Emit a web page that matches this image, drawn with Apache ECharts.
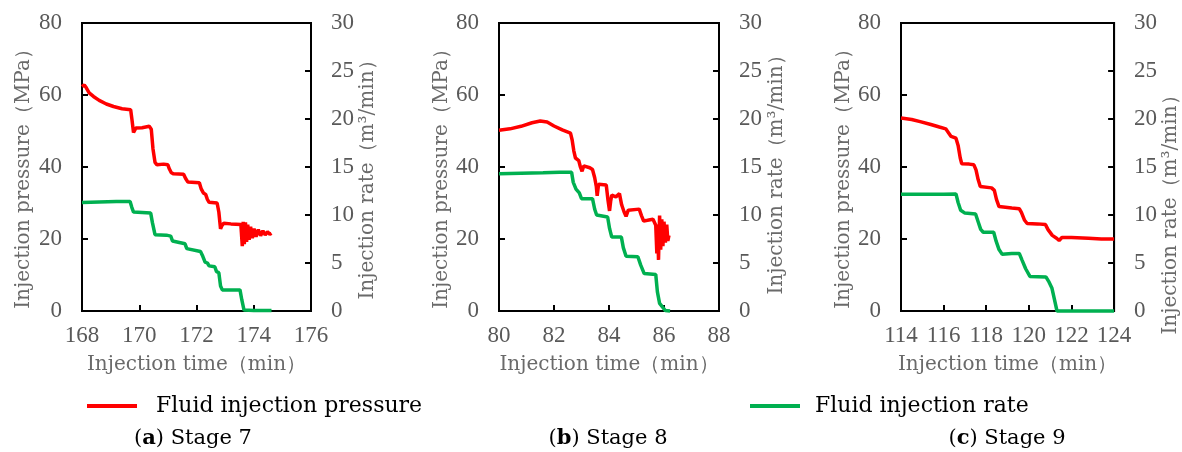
<!DOCTYPE html>
<html>
<head>
<meta charset="utf-8">
<title>Fluid injection pressure and rate, stages 7-9</title>
<script src="https://cdn.jsdelivr.net/npm/echarts@6/dist/echarts.min.js"></script>
<style>
  html, body { margin: 0; padding: 0; background: #fff; }
  #chart { width: 1182px; height: 452px; }
</style>
</head>
<body>
<div id="chart"></div>
<script>
// ---- Stage 7 ----
const s7PressureTime = [168.00,168.08,168.15,168.25,168.40,168.60,168.85,169.10,169.40,169.70,169.74,169.80,169.88,170.10,170.35,170.42,170.48,170.55,170.62,170.85,171.00,171.05,171.12,171.20,171.55,171.62,171.70,172.10,172.16,172.24,172.32,172.38,172.44,172.72,172.78,172.84,172.88,172.95,173.20,173.55,173.60,173.63,173.67,173.71,173.75,173.79,173.84,173.89,173.95,174.01,174.08,174.16,174.24,174.32,174.40,174.48,174.56,174.62];
const s7Pressure     = [62.3,62.8,62.0,60.6,59.6,58.5,57.5,56.8,56.2,55.9,53.5,49.6,50.8,50.9,51.3,50.5,45.0,41.3,40.6,40.8,40.6,39.5,38.4,38.1,38.0,36.8,35.8,35.6,34.0,32.8,32.4,31.0,30.2,30.0,27.5,22.8,23.6,24.4,24.2,24.0,18.0,24.8,18.6,24.6,19.2,24.0,19.8,23.4,20.2,22.9,20.6,22.6,20.9,22.3,21.1,22.0,21.3,21.6];
const s7RateTime = [168.00,168.60,169.20,169.68,169.74,169.80,170.10,170.40,170.46,170.55,170.95,171.10,171.16,171.22,171.60,171.66,171.72,172.14,172.22,172.30,172.38,172.44,172.64,172.70,172.78,172.84,172.90,173.52,173.58,173.66,174.00,174.62];
const s7Rate     = [11.3,11.35,11.4,11.4,10.8,10.3,10.25,10.2,9.2,7.95,7.9,7.8,7.3,7.1,7.0,6.5,6.3,6.2,5.7,5.1,5.0,4.7,4.6,4.1,4.0,2.6,2.2,2.2,1.2,0.1,0.05,0.05];

// ---- Stage 8 ----
const s8PressureTime = [80.00,80.40,80.80,81.20,81.50,81.75,82.00,82.30,82.60,82.66,82.72,82.78,82.85,82.90,82.96,83.02,83.08,83.30,83.40,83.48,83.54,83.57,83.62,83.90,83.96,84.02,84.06,84.10,84.25,84.38,84.46,84.55,84.62,84.70,85.10,85.18,85.26,85.40,85.60,85.70,85.74,85.77,85.80,85.84,85.88,85.92,85.96,86.00,86.05,86.10,86.14,86.18];
const s8Pressure     = [50.2,50.6,51.3,52.3,52.8,52.5,51.4,50.3,49.4,47.5,44.5,42.5,43.0,41.8,40.0,38.8,40.3,39.8,39.3,37.0,34.5,32.0,35.2,35.0,31.0,27.8,30.5,32.2,31.7,32.6,29.5,27.5,26.3,28.0,28.3,26.5,25.0,25.2,25.5,23.8,16.0,24.0,14.2,26.5,17.0,25.5,18.0,24.8,19.0,24.0,19.5,21.0];
const s8RateTime = [80.00,80.80,81.60,82.20,82.64,82.70,82.80,82.92,83.00,83.40,83.48,83.55,83.95,84.02,84.10,84.45,84.52,84.62,85.05,85.15,85.28,85.70,85.76,85.84,85.95,86.05,86.22];
const s8Rate     = [14.3,14.35,14.4,14.45,14.45,13.4,12.7,12.3,11.7,11.7,10.6,10.0,9.8,8.6,7.7,7.7,6.6,5.7,5.65,4.8,3.9,3.8,2.0,0.8,0.4,0.05,0.0];

// ---- Stage 9 ----
const s9PressureTime = [114.00,114.50,114.90,115.40,115.80,116.10,116.22,116.35,116.58,116.68,116.78,116.85,117.20,117.42,117.52,117.62,117.72,118.25,118.38,118.48,118.60,119.20,119.55,119.65,119.80,119.92,120.40,120.78,120.90,121.10,121.30,121.42,121.55,122.00,122.80,123.40,124.00];
const s9Pressure     = [53.6,53.2,52.6,51.8,51.1,50.6,49.6,48.5,48.0,46.0,42.5,40.9,40.8,40.6,39.2,36.5,34.6,34.2,33.5,31.0,29.0,28.6,28.4,27.4,25.2,24.3,24.2,24.0,22.6,21.0,20.2,19.6,20.4,20.4,20.2,20.0,20.0];
const s9RateTime = [114.00,115.00,116.00,116.58,116.68,116.80,117.00,117.50,117.62,117.74,117.86,118.35,118.46,118.60,118.75,119.20,119.55,119.68,119.85,120.05,120.80,120.95,121.08,121.20,121.32,124.00];
const s9Rate     = [12.15,12.15,12.15,12.2,11.3,10.5,10.2,10.1,9.3,8.5,8.2,8.2,7.3,6.4,5.9,6.0,6.0,5.3,4.4,3.6,3.55,3.0,2.4,1.2,0.0,0.0];

// Axis ranges and tick steps for the three panels
const timeRanges = [[168, 176], [80, 88], [114, 124]];
const timeStep = 2;
const pressureRange = [0, 80], pressureStep = 20;
const rateRange = [0, 30], rateStep = 5;

// Texts
const pressureName = 'Fluid injection pressure';
const rateName = 'Fluid injection rate';
const timeAxisName = 'Injection time（min）';
const pressureAxisName = 'Injection pressure（MPa）';
const rateAxisName = 'Injection rate（m³/min）';
const captions = [['a', 'Stage 7'], ['b', 'Stage 8'], ['c', 'Stage 9']];

const panels = [
  { pt: s7PressureTime, p: s7Pressure, rt: s7RateTime, r: s7Rate },
  { pt: s8PressureTime, p: s8Pressure, rt: s8RateTime, r: s8Rate },
  { pt: s9PressureTime, p: s9Pressure, rt: s9RateTime, r: s9Rate }
];

const zip = (xs, ys) => xs.map((x, i) => [x, ys[i]]);

// layout of the three plotting frames
const grids = [
  { left: 82,  top: 23, width: 229, height: 288 },
  { left: 499, top: 23, width: 220, height: 288 },
  { left: 901, top: 23, width: 215, height: 288 }
];
const leftNameGap  = [48, 46, 43];
const rightNameGap = [43, 48, 41];
const rightNamePad = [16, 6, 86];
const centerX = [193, 608, 1007];

const RED = '#FF0000', GREEN = '#00B050';
const labelFont = 'Liberation Serif';
const textFont = 'DejaVu Serif';
const axisBlack = { lineStyle: { color: '#000', width: 2 } };
const tickIn = { show: true, inside: true, length: 6, lineStyle: { color: '#000', width: 2 } };
const tickLabel = { color: '#595959', fontFamily: labelFont, fontSize: 23, margin: 20 };
const nameStyle = { color: '#6a6a6a', fontFamily: textFont, fontSize: 20 };

const option = {
  animation: false,
  backgroundColor: '#fff',
  grid: grids.map(g => Object.assign({ show: true, borderColor: '#000', borderWidth: 2, backgroundColor: 'transparent' }, g)),
  xAxis: timeRanges.map((rg, i) => ({
    type: 'value', gridIndex: i, min: rg[0], max: rg[1], interval: timeStep,
    axisLine: axisBlack, axisTick: tickIn,
    axisLabel: Object.assign({}, tickLabel, { margin: 13, showMinLabel: true, showMaxLabel: true }),
    splitLine: { show: false },
    name: timeAxisName, nameLocation: 'middle', nameGap: 44, nameTextStyle: nameStyle
  })),
  yAxis: [].concat(...grids.map((g, i) => [
    {
      type: 'value', gridIndex: i, position: 'left',
      min: pressureRange[0], max: pressureRange[1], interval: pressureStep,
      axisLine: axisBlack, axisTick: tickIn, axisLabel: tickLabel, splitLine: { show: false },
      name: pressureAxisName, nameLocation: 'middle', nameRotate: 90, nameGap: leftNameGap[i],
      nameTextStyle: Object.assign({}, nameStyle, { padding: [0, 14, 0, 0] })
    },
    {
      type: 'value', gridIndex: i, position: 'right',
      min: rateRange[0], max: rateRange[1], interval: rateStep,
      axisLine: axisBlack, axisTick: tickIn, axisLabel: tickLabel, splitLine: { show: false },
      name: rateAxisName, nameLocation: 'middle', nameRotate: 90, nameGap: rightNameGap[i],
      nameTextStyle: Object.assign({}, nameStyle, { padding: [0, rightNamePad[i], 0, 0] })
    }
  ])),
  legend: [
    {
      data: [pressureName], left: 82, top: 390, itemWidth: 50, itemHeight: 4, icon: 'rect',
      textStyle: { fontFamily: textFont, fontSize: 22, color: '#000', padding: [0, 0, 0, 14] }
    },
    {
      data: [rateName], left: 745, top: 390, itemWidth: 50, itemHeight: 4, icon: 'rect',
      textStyle: { fontFamily: textFont, fontSize: 22, color: '#000', padding: [0, 0, 0, 10] }
    }
  ],
  series: [].concat(...panels.map((pn, i) => [
    {
      name: pressureName, type: 'line', xAxisIndex: i, yAxisIndex: 2 * i,
      data: zip(pn.pt, pn.p), showSymbol: false, symbol: 'none', clip: false,
      itemStyle: { color: RED }, lineStyle: { color: RED, width: 3.5 }
    },
    {
      name: rateName, type: 'line', xAxisIndex: i, yAxisIndex: 2 * i + 1,
      data: zip(pn.rt, pn.r), showSymbol: false, symbol: 'none', clip: false,
      itemStyle: { color: GREEN }, lineStyle: { color: GREEN, width: 3.5 }
    }
  ])),
  graphic: captions.map((c, i) => ({
    type: 'text', x: centerX[i], y: 439,
    style: {
      text: '({b|' + c[0] + '}) ' + c[1],
      rich: { b: { fontWeight: 'bold', fontFamily: textFont, fontSize: 21, fill: '#000' } },
      fontFamily: textFont, fontSize: 21, fill: '#000',
      textAlign: 'center', textVerticalAlign: 'middle'
    }
  }))
};

const chart = echarts.init(document.getElementById('chart'), null, { renderer: 'canvas' });
chart.setOption(option);
</script>
</body>
</html>
